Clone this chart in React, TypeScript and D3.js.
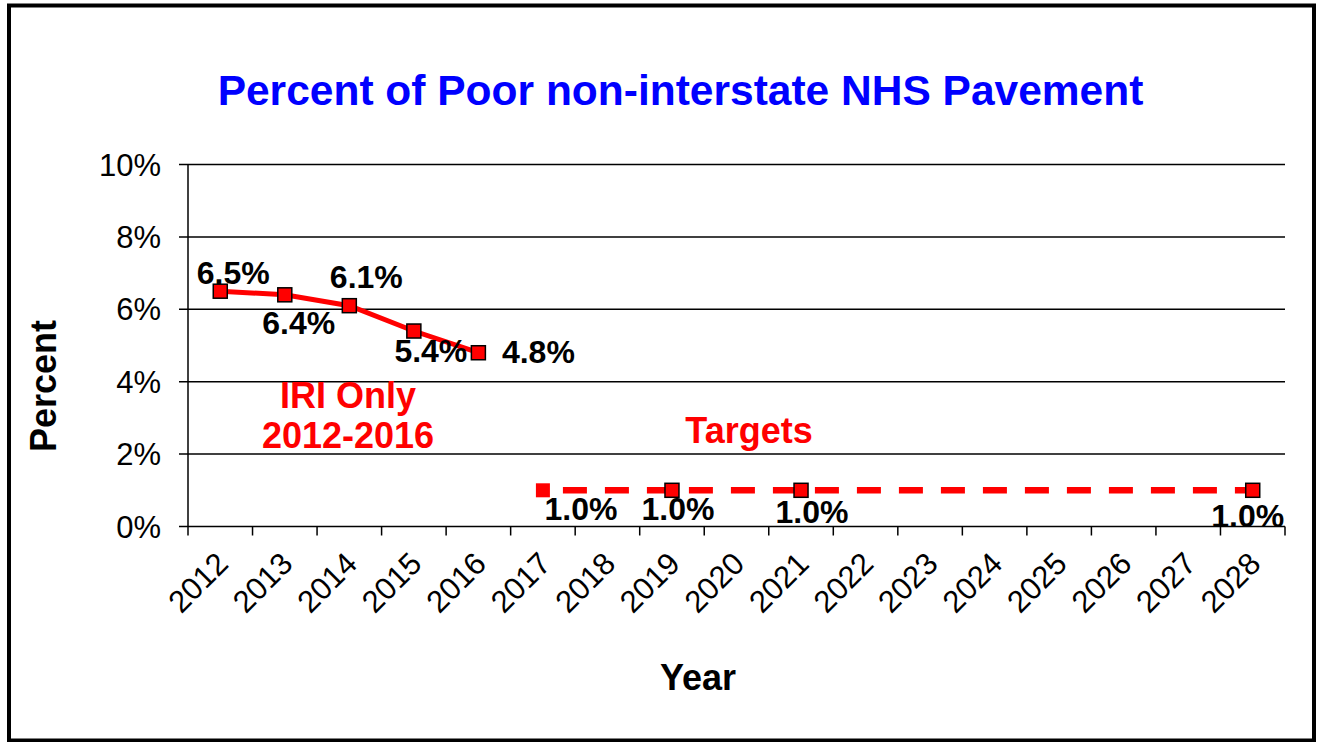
import React from 'react';
import * as d3 from 'd3';

const years = ['2012','2013','2014','2015','2016','2017','2018','2019','2020','2021','2022','2023','2024','2025','2026','2027','2028'];
const iriYears = ['2012','2013','2014','2015','2016'];
const iriValues = [6.5, 6.4, 6.1, 5.4, 4.8];
const targetYears = ['2017','2019','2021','2028'];
const targetValues = [1.0, 1.0, 1.0, 1.0];
const yTicks = [0, 2, 4, 6, 8, 10];

// label placement offsets (layout only)
const iriLabelOffsets = [[13, -7], [14, 39], [17, -18], [17, 31], [60, 10]];
const targetLabelOffsets = [[38, 30], [6, 30], [11, 33], [-5, 37]];

const W = 1319, H = 742;
const left = 188, right = 1285, top = 164.5, bottom = 526.5;
const FONT = 'Liberation Sans, Arial, sans-serif';

export default function App() {
  const x = d3.scaleBand<string>().domain(years).range([left, right]).paddingInner(0).paddingOuter(0);
  const y = d3.scaleLinear().domain([0, 10]).range([bottom, top]);
  const cx = (yr: string) => (x(yr) as number) + x.bandwidth() / 2;
  const fmt = (v: number) => v.toFixed(1) + '%';

  const line = d3.line<number>().x((_, i) => cx(iriYears[i])).y((d) => y(d));
  const tline = d3.line<number>().x((_, i) => cx(targetYears[i])).y((d) => y(d));
  const ms = 14;

  return (
    <svg width={W} height={H} style={{ position: 'absolute', left: 0, top: 0, background: '#fff' }} fontFamily={FONT}>
      <rect x={0} y={0} width={W} height={H} fill="#fff" />
      <rect x={9} y={5.5} width={1305} height={735} fill="none" stroke="#000" strokeWidth={4} />
      <text x={680.5} y={105} textAnchor="middle" fontSize={42.5} fontWeight="bold" fill="#0000ff">Percent of Poor non-interstate NHS Pavement</text>

      {/* gridlines and y ticks */}
      {yTicks.map((t) => (
        <g key={t}>
          <line x1={left - 9} x2={right} y1={y(t)} y2={y(t)} stroke="#000" strokeWidth={1.5} />
          <text x={161} y={y(t)} dy="0.36em" textAnchor="end" fontSize={31} fill="#000">{t + '%'}</text>
        </g>
      ))}
      <line x1={left} x2={left} y1={top} y2={bottom} stroke="#000" strokeWidth={1.5} />
      {/* x axis ticks at boundaries */}
      {years.concat(['end']).map((yr, i) => {
        const xx = left + i * x.bandwidth();
        return <line key={'t' + i} x1={xx} x2={xx} y1={bottom} y2={bottom + 9} stroke="#000" strokeWidth={1.5} />;
      })}
      {years.map((yr) => {
        const ax = cx(yr) + 2, ay = 558;
        return (
          <text key={yr} x={ax} y={ay} dy="0.35em" textAnchor="end" fontSize={31} fill="#000" transform={`rotate(-45 ${ax} ${ay})`}>{yr}</text>
        );
      })}

      <text x={698} y={690} textAnchor="middle" fontSize={36} fontWeight="bold" fill="#000">Year</text>
      <text transform={`translate(56 386) rotate(-90)`} textAnchor="middle" fontSize={36} fontWeight="bold" fill="#000">Percent</text>

      {/* IRI series */}
      <path d={line(iriValues) || ''} fill="none" stroke="#ff0000" strokeWidth={5} />
      {iriValues.map((v, i) => (
        <rect key={'m' + i} x={cx(iriYears[i]) - ms / 2} y={y(v) - ms / 2} width={ms} height={ms} fill="#ff0000" stroke="#000" strokeWidth={1.5} />
      ))}
      {/* Targets series */}
      <path d={tline(targetValues) || ''} fill="none" stroke="#ff0000" strokeWidth={6.5} strokeDasharray="24 18" strokeDashoffset={-20} />
      {targetValues.map((v, i) => (
        <rect key={'tm' + i} x={cx(targetYears[i]) - ms / 2} y={y(v) - ms / 2} width={ms} height={ms} fill="#ff0000" stroke={i === 0 ? 'none' : '#000'} strokeWidth={1.5} />
      ))}

      {/* data labels */}
      {iriValues.map((v, i) => (
        <text key={'l' + i} x={cx(iriYears[i]) + iriLabelOffsets[i][0]} y={y(v) + iriLabelOffsets[i][1]} textAnchor="middle" fontSize={32} fontWeight="bold" fill="#000">{fmt(v)}</text>
      ))}
      {targetValues.map((v, i) => (
        <text key={'tl' + i} x={cx(targetYears[i]) + targetLabelOffsets[i][0]} y={y(v) + targetLabelOffsets[i][1]} textAnchor="middle" fontSize={32} fontWeight="bold" fill="#000">{fmt(v)}</text>
      ))}

      <text x={348} y={408} textAnchor="middle" fontSize={36} fontWeight="bold" fill="#ff0000">IRI Only</text>
      <text x={348} y={448} textAnchor="middle" fontSize={36} fontWeight="bold" fill="#ff0000">2012-2016</text>
      <text x={749} y={443} textAnchor="middle" fontSize={36} fontWeight="bold" fill="#ff0000">Targets</text>
    </svg>
  );
}
